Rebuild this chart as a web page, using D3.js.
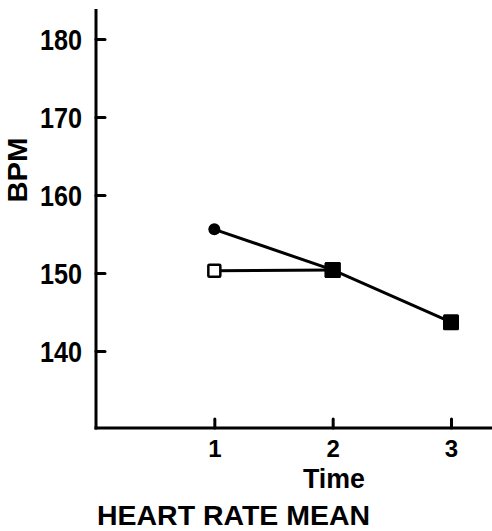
<!DOCTYPE html>
<html>
<head>
<meta charset="utf-8">
<script src="https://cdn.jsdelivr.net/npm/d3@7"></script>
<style>
  html, body { margin: 0; padding: 0; background: #fff; }
  svg { display: block; }
  text { font-family: "Liberation Sans", Arial, sans-serif; font-weight: bold; fill: #000; }
</style>
</head>
<body>
<svg id="chart" width="492" height="531"></svg>
<script>
// Time points on the x axis
const times = [1, 2, 3];
const timeTicks = ["1", "2", "3"];

// BPM tick values on the y axis
const bpmTicks = [140, 150, 160, 170, 180];

// Mean heart rate, group followed across all three times
const groupA = [155.6, 150.4, 143.7];
const groupAMarkers = ["circle", "square", "square"];

// Mean heart rate, group measured at times 1 and 2
const groupB = [150.3, 150.4];
const groupBMarkers = ["openSquare", "square"];

const svg = d3.select("#chart");
const ink = "#000";

const x = d3.scaleLinear().domain([0, 3]).range([96, 451]);
const y = d3.scaleLinear().domain([130, 180]).range([429, 39]);

const axisX0 = 96, axisY0 = 428;

// Axis lines
svg.append("line")
  .attr("x1", axisX0).attr("x2", axisX0)
  .attr("y1", 9).attr("y2", axisY0 + 1.5)
  .attr("stroke", ink).attr("stroke-width", 3);
svg.append("line")
  .attr("x1", axisX0 - 1.5).attr("x2", 492)
  .attr("y1", axisY0).attr("y2", axisY0)
  .attr("stroke", ink).attr("stroke-width", 3);

// Y axis: ticks pointing inward
const yAxis = d3.axisLeft(y)
  .tickValues(bpmTicks)
  .tickFormat(d3.format("d"))
  .tickSizeInner(-9)
  .tickSizeOuter(0)
  .tickPadding(14);
const gy = svg.append("g").attr("transform", `translate(${axisX0},0)`).call(yAxis);
gy.select(".domain").remove();
gy.selectAll(".tick line").attr("stroke", ink).attr("stroke-width", 3).attr("stroke-linecap", "round");
gy.selectAll(".tick text")
  .attr("font-size", 29)
  .attr("dy", "0.37em")
  .attr("textLength", 42)
  .attr("lengthAdjust", "spacingAndGlyphs")
  .style("font-family", '"Liberation Sans", Arial, sans-serif')
  .style("font-weight", "bold");

// X axis: ticks pointing inward
const xAxis = d3.axisBottom(x)
  .tickValues(times)
  .tickFormat((d, i) => timeTicks[i])
  .tickSizeInner(-9)
  .tickSizeOuter(0)
  .tickPadding(12);
const gx = svg.append("g").attr("transform", `translate(0,${axisY0})`).call(xAxis);
gx.select(".domain").remove();
gx.selectAll(".tick line").attr("stroke", ink).attr("stroke-width", 3).attr("stroke-linecap", "round");
gx.selectAll(".tick text")
  .attr("font-size", 24)
  .style("font-family", '"Liberation Sans", Arial, sans-serif')
  .style("font-weight", "bold");

// Axis titles
svg.append("text")
  .attr("transform", "translate(27,170) rotate(-90)")
  .attr("text-anchor", "middle")
  .attr("font-size", 28)
  .attr("textLength", 65)
  .attr("lengthAdjust", "spacingAndGlyphs")
  .text("BPM");

svg.append("text")
  .attr("x", 334).attr("y", 487.5)
  .attr("text-anchor", "middle")
  .attr("font-size", 27)
  .attr("textLength", 62)
  .attr("lengthAdjust", "spacingAndGlyphs")
  .text("Time");

svg.append("text")
  .attr("x", 97).attr("y", 525)
  .attr("font-size", 28)
  .attr("textLength", 273)
  .attr("lengthAdjust", "spacingAndGlyphs")
  .text("HEART RATE MEAN");

// Connecting lines
const line = d3.line().x(d => x(d.t)).y(d => y(d.v));
const toPts = vals => vals.map((v, i) => ({ t: times[i], v }));

[groupB, groupA].forEach(vals => {
  svg.append("path")
    .datum(toPts(vals))
    .attr("d", line)
    .attr("fill", "none")
    .attr("stroke", ink)
    .attr("stroke-width", 3);
});

// Markers
function drawMarkers(vals, shapes) {
  toPts(vals).forEach((p, i) => {
    const cx = x(p.t), cy = y(p.v);
    const kind = shapes[i];
    if (kind === "circle") {
      svg.append("circle").attr("cx", cx).attr("cy", cy).attr("r", 6).attr("fill", ink);
    } else if (kind === "square") {
      svg.append("rect").attr("x", cx - 8).attr("y", cy - 8).attr("width", 16).attr("height", 16)
        .attr("rx", 1.5).attr("fill", ink);
    } else if (kind === "openSquare") {
      svg.append("rect").attr("x", cx - 6).attr("y", cy - 6).attr("width", 12).attr("height", 12)
        .attr("rx", 1).attr("fill", "#fff").attr("stroke", ink).attr("stroke-width", 2.5);
    }
  });
}
drawMarkers(groupB, groupBMarkers);
drawMarkers(groupA, groupAMarkers);
</script>
</body>
</html>
